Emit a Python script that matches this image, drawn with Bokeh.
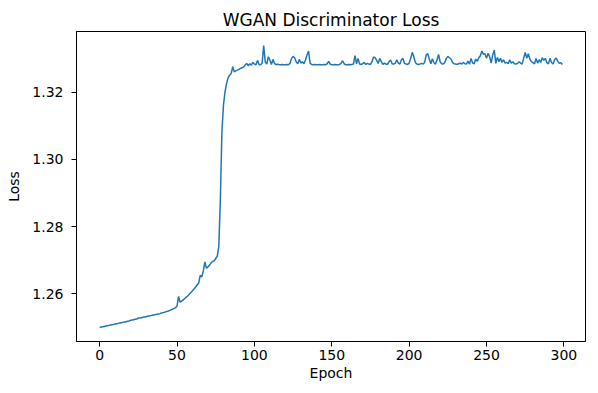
from bokeh.plotting import figure
from bokeh.models import FixedTicker, NumeralTickFormatter, Range1d
from bokeh.embed import file_html
from bokeh.resources import INLINE

epochs = list(range(300))
loss = [
    1.2500, 1.2501, 1.2502, 1.2503, 1.2504, 1.2505, 1.2506, 1.2507, 1.2508, 1.2509,
    1.2510, 1.2511, 1.2512, 1.2513, 1.2514, 1.2515, 1.2516, 1.2517, 1.2518, 1.2519,
    1.2521, 1.2522, 1.2523, 1.2524, 1.2525, 1.2528, 1.2528, 1.2529, 1.2530, 1.2531,
    1.2532, 1.2533, 1.2534, 1.2535, 1.2536, 1.2537, 1.2538, 1.2539, 1.2540, 1.2541,
    1.2543, 1.2544, 1.2545, 1.2547, 1.2548, 1.2550, 1.2552, 1.2554, 1.2556, 1.2559,
    1.2563, 1.2592, 1.2575, 1.2578, 1.2582, 1.2586, 1.2590, 1.2594, 1.2599, 1.2604,
    1.2609, 1.2614, 1.2620, 1.2626, 1.2632, 1.2655, 1.2650, 1.2668, 1.2695, 1.2676,
    1.2680, 1.2685, 1.2692, 1.2696, 1.2698, 1.2705, 1.2712, 1.2740, 1.2880, 1.3080,
    1.3160, 1.3200, 1.3225, 1.3242, 1.3250, 1.3255, 1.3275, 1.3260, 1.3263, 1.3265,
    1.3267, 1.3270, 1.3272, 1.3274, 1.3280, 1.3285, 1.3278, 1.3284, 1.3280, 1.3288,
    1.3283, 1.3281, 1.3294, 1.3282, 1.3281, 1.3286, 1.3338, 1.3290, 1.3283, 1.3305,
    1.3295, 1.3282, 1.3297, 1.3285, 1.3281, 1.3283, 1.3281, 1.3281, 1.3282, 1.3281,
    1.3281, 1.3282, 1.3281, 1.3285, 1.3300, 1.3306, 1.3302, 1.3290, 1.3284, 1.3297,
    1.3286, 1.3290, 1.3284, 1.3295, 1.3310, 1.3322, 1.3285, 1.3282, 1.3281, 1.3282,
    1.3281, 1.3281, 1.3282, 1.3281, 1.3281, 1.3282, 1.3281, 1.3284, 1.3291, 1.3283,
    1.3281, 1.3281, 1.3282, 1.3281, 1.3281, 1.3282, 1.3285, 1.3293, 1.3284, 1.3281,
    1.3281, 1.3282, 1.3281, 1.3282, 1.3283, 1.3308, 1.3284, 1.3300, 1.3283, 1.3282,
    1.3284, 1.3288, 1.3282, 1.3285, 1.3283, 1.3282, 1.3290, 1.3304, 1.3302, 1.3294,
    1.3285, 1.3300, 1.3290, 1.3282, 1.3286, 1.3283, 1.3282, 1.3290, 1.3295, 1.3284,
    1.3283, 1.3285, 1.3296, 1.3286, 1.3283, 1.3296, 1.3300, 1.3285, 1.3283, 1.3282,
    1.3286, 1.3300, 1.3318, 1.3305, 1.3288, 1.3283, 1.3282, 1.3283, 1.3285, 1.3283,
    1.3288, 1.3310, 1.3314, 1.3298, 1.3284, 1.3299, 1.3287, 1.3283, 1.3295, 1.3312,
    1.3290, 1.3284, 1.3283, 1.3288, 1.3300, 1.3306, 1.3302, 1.3298, 1.3288, 1.3284,
    1.3283, 1.3282, 1.3284, 1.3286, 1.3283, 1.3288, 1.3284, 1.3283, 1.3292, 1.3283,
    1.3300, 1.3286, 1.3284, 1.3298, 1.3291, 1.3302, 1.3308, 1.3322, 1.3312, 1.3314,
    1.3300, 1.3315, 1.3305, 1.3286, 1.3310, 1.3325, 1.3285, 1.3303, 1.3290, 1.3300,
    1.3288, 1.3296, 1.3286, 1.3288, 1.3284, 1.3296, 1.3286, 1.3290, 1.3284, 1.3283,
    1.3285, 1.3290, 1.3286, 1.3283, 1.3300, 1.3318, 1.3300, 1.3314, 1.3298, 1.3290,
    1.3287, 1.3284, 1.3300, 1.3286, 1.3296, 1.3288, 1.3302, 1.3294, 1.3300, 1.3287,
    1.3284, 1.3300, 1.3288, 1.3283, 1.3296, 1.3301, 1.3292, 1.3285, 1.3287, 1.3282,
]
x_ticks = [0, 50, 100, 150, 200, 250, 300]
y_ticks = [1.26, 1.28, 1.30, 1.32]

FONT = "DejaVu Sans"

xpad = 0.05 * (max(epochs) - min(epochs))
ypad = 0.05 * (max(loss) - min(loss))

p = figure(frame_width=509, frame_height=310, output_backend="svg", toolbar_location=None,
           x_range=Range1d(min(epochs) - xpad, max(epochs) + xpad),
           y_range=Range1d(min(loss) - ypad, max(loss) + ypad),
           min_border_left=76, min_border_right=13, min_border_top=31, min_border_bottom=52,
           title="WGAN Discriminator Loss")
p.line(epochs, loss, line_color="#1f77b4", line_width=1.5)

p.title.align = "center"
p.title.text_font = FONT
p.title.text_font_style = "normal"
p.title.text_font_size = "17px"
p.title.text_color = "black"
p.title.standoff = 4

p.xgrid.visible = False
p.ygrid.visible = False
p.outline_line_color = "black"
p.outline_line_width = 1
p.outline_line_alpha = 1
p.background_fill_color = "white"
p.border_fill_color = "white"

p.xaxis.ticker = FixedTicker(ticks=x_ticks)
p.yaxis.ticker = FixedTicker(ticks=y_ticks)
p.yaxis.formatter = NumeralTickFormatter(format="0.00")
p.xaxis.axis_label = "Epoch"
p.yaxis.axis_label = "Loss"
for ax in (p.xaxis, p.yaxis):
    ax.axis_line_color = "black"
    ax.major_tick_line_color = "black"
    ax.minor_tick_line_color = None
    ax.major_tick_in = 0
    ax.major_tick_out = 5
    ax.major_label_text_font = FONT
    ax.major_label_text_font_size = "14px"
    ax.major_label_text_color = "black"
    ax.axis_label_text_font = FONT
    ax.axis_label_text_font_size = "14px"
    ax.axis_label_text_font_style = "normal"
    ax.axis_label_text_color = "black"
p.xaxis.major_label_standoff = 3
p.xaxis.axis_label_standoff = 2
p.yaxis.major_label_standoff = 8
p.yaxis.axis_label_standoff = 7

open("out.html", "w").write(file_html(p, INLINE))
